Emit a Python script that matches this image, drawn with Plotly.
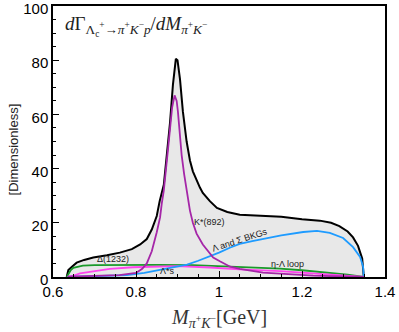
import plotly.graph_objects as go

# total spectrum (black, filled)
total_m = [0.633, 0.637, 0.647, 0.657, 0.675, 0.697, 0.73, 0.761, 0.79, 0.81, 0.826, 0.838,
           0.85, 0.857, 0.867, 0.874, 0.882, 0.889, 0.896, 0.9, 0.906, 0.913, 0.922, 0.93,
           0.937, 0.954, 0.961, 0.978, 0.995, 1.02, 1.05, 1.1, 1.15, 1.2, 1.243, 1.27,
           1.29, 1.31, 1.323, 1.335, 1.345, 1.349]
total_v = [0, 2.6, 4.0, 5.3, 6.3, 7.2, 8.0, 9.0, 10.3, 12.0, 14.0, 17.5,
           22.5, 28, 34, 45, 57, 71, 80.5, 80, 73, 61, 50, 43,
           39, 33, 31, 28, 25.5, 24, 23, 22.6, 22.2, 21.3, 20.8, 20.0,
           18.8, 16.8, 14.6, 11.5, 6.8, 0]

# Lambda and Sigma backgrounds (blue)
bkg_m = [0.635, 0.7, 0.778, 0.82, 0.858, 0.9, 0.923, 0.95, 0.978, 1.0, 1.026, 1.05, 1.08,
         1.106, 1.15, 1.203, 1.236, 1.267, 1.299, 1.323, 1.34, 1.347, 1.349]
bkg_v = [0, 0.2, 0.7, 1.5, 2.6, 3.8, 4.6, 6.0, 7.6, 9.0, 10.8, 12.2, 13.2,
         14.0, 15.4, 16.6, 17.0, 16.3, 14.4, 11.0, 7.4, 4.0, 0]

# eta-Lambda loop (green)
loop_m = [0.633, 0.637, 0.643, 0.649, 0.66, 0.672, 0.7, 0.78, 0.85, 0.937, 1.0, 1.05,
          1.147, 1.2, 1.267, 1.31, 1.349]
loop_v = [0, 1.0, 2.6, 3.4, 3.9, 4.2, 4.4, 4.5, 4.5, 4.4, 4.0, 3.8,
          3.1, 2.5, 1.6, 0.9, 0]

# Lambda*s (magenta)
lam_m = [0.635, 0.65, 0.665, 0.7, 0.737, 0.793, 0.858, 0.9, 0.978, 1.05, 1.147, 1.227, 1.3, 1.349]
lam_v = [0, 0.5, 1.3, 2.2, 3.0, 3.6, 4.0, 4.0, 3.5, 2.8, 2.2, 1.4, 0.6, 0]

# K*(892) (purple)
kst_m = [0.635, 0.7, 0.76, 0.8, 0.815, 0.826, 0.838, 0.85, 0.858, 0.862, 0.867, 0.877,
         0.882, 0.887, 0.893, 0.898, 0.901, 0.906, 0.91, 0.916, 0.922, 0.93, 0.937, 0.946,
         0.961, 0.986, 1.002, 1.027, 1.05, 1.106, 1.227, 1.349]
kst_v = [0.1, 0.3, 0.7, 1.5, 3.0, 5.0, 9.5, 16.5, 22, 27, 32, 47,
         55, 62.5, 67, 65, 61, 52, 45, 38, 32, 24.5, 20, 16,
         12, 7.2, 5.8, 3.8, 3.0, 1.6, 0.5, 0]

sans = 'Liberation Sans, Arial, sans-serif'
serif = 'Liberation Serif, Times New Roman, serif'

fig = go.Figure()
fig.add_trace(go.Scatter(x=total_m, y=total_v, mode='lines', fill='tozeroy',
                         fillcolor='#e8e8e8', line=dict(color='black', width=2)))
fig.add_trace(go.Scatter(x=loop_m, y=loop_v, mode='lines', line=dict(color='#1a9a2a', width=1.8)))
fig.add_trace(go.Scatter(x=lam_m, y=lam_v, mode='lines', line=dict(color='#ff44ee', width=1.8)))
fig.add_trace(go.Scatter(x=bkg_m, y=bkg_v, mode='lines', line=dict(color='#1e9bff', width=1.8)))
fig.add_trace(go.Scatter(x=kst_m, y=kst_v, mode='lines', line=dict(color='#a526a8', width=1.8)))

labels = [
    (0.745, 6.8, 'Δ(1232)', 0),
    (0.875, 2.2, 'Λ*s', 0),
    (0.976, 20.2, 'K*(892)', 0),
    (1.05, 13.6, 'Λ and Σ BKGs', -18),
    (1.166, 4.8, 'η-Λ loop', 0),
]
for x, y, t, ang in labels:
    fig.add_annotation(x=x, y=y, xref='x', yref='y', text=t, showarrow=False,
                       textangle=ang, font=dict(family=sans, size=9, color='#222'))

fig.add_annotation(xref='paper', yref='paper', x=0.03, y=0.98, xanchor='left', yanchor='top',
                   showarrow=False,
                   text='<i>d</i>Γ<sub>Λ<sub>c</sub><sup>+</sup>→<i>π</i><sup>+</sup><i>K</i><sup>−</sup><i>p</i></sub>'
                        '/<i>dM</i><sub><i>π</i><sup>+</sup><i>K</i><sup>−</sup></sub>',
                   font=dict(family=serif, size=19, color='#222'))
fig.add_annotation(xref='paper', yref='paper', x=0.5, y=-0.1, xanchor='center', yanchor='top',
                   showarrow=False,
                   text='<i>M</i><sub><i>π</i><sup>+</sup><i>K</i><sup>−</sup></sub>[GeV]',
                   font=dict(family=serif, size=20, color='#333'))
fig.add_annotation(xref='paper', yref='paper', x=-0.118, y=0.47, xanchor='center', yanchor='middle',
                   showarrow=False, textangle=-90, text='[Dimensionless]',
                   font=dict(family=sans, size=13, color='#222'))

axis = dict(showline=True, mirror=True, linecolor='black', linewidth=1.5, showgrid=False,
            zeroline=False, ticks='inside', ticklen=6, tickwidth=1.2, tickcolor='black',
            automargin=False, ticklabeloverflow='allow',
            tickfont=dict(family=sans, size=15, color='black'))
fig.update_xaxes(axis, range=[0.6, 1.4], tickvals=[0.6, 0.8, 1.0, 1.2, 1.4],
                 ticktext=['0.6', '0.8', '1', '1.2', '1.4'],
                 minor=dict(dtick=0.05, ticklen=3, ticks='inside', tickcolor='black'))
fig.update_yaxes(axis, range=[0, 100], tickvals=[0, 20, 40, 60, 80, 100], ticklabelshift=3,
                 minor=dict(dtick=5, ticklen=3, ticks='inside', tickcolor='black'))
fig.update_layout(width=399, height=332, margin=dict(l=53, r=14, t=6, b=55),
                  plot_bgcolor='white', paper_bgcolor='white', showlegend=False)
fig.write_html("out.html", config={'displayModeBar': False},
               post_script="document.body.style.margin='0';")
